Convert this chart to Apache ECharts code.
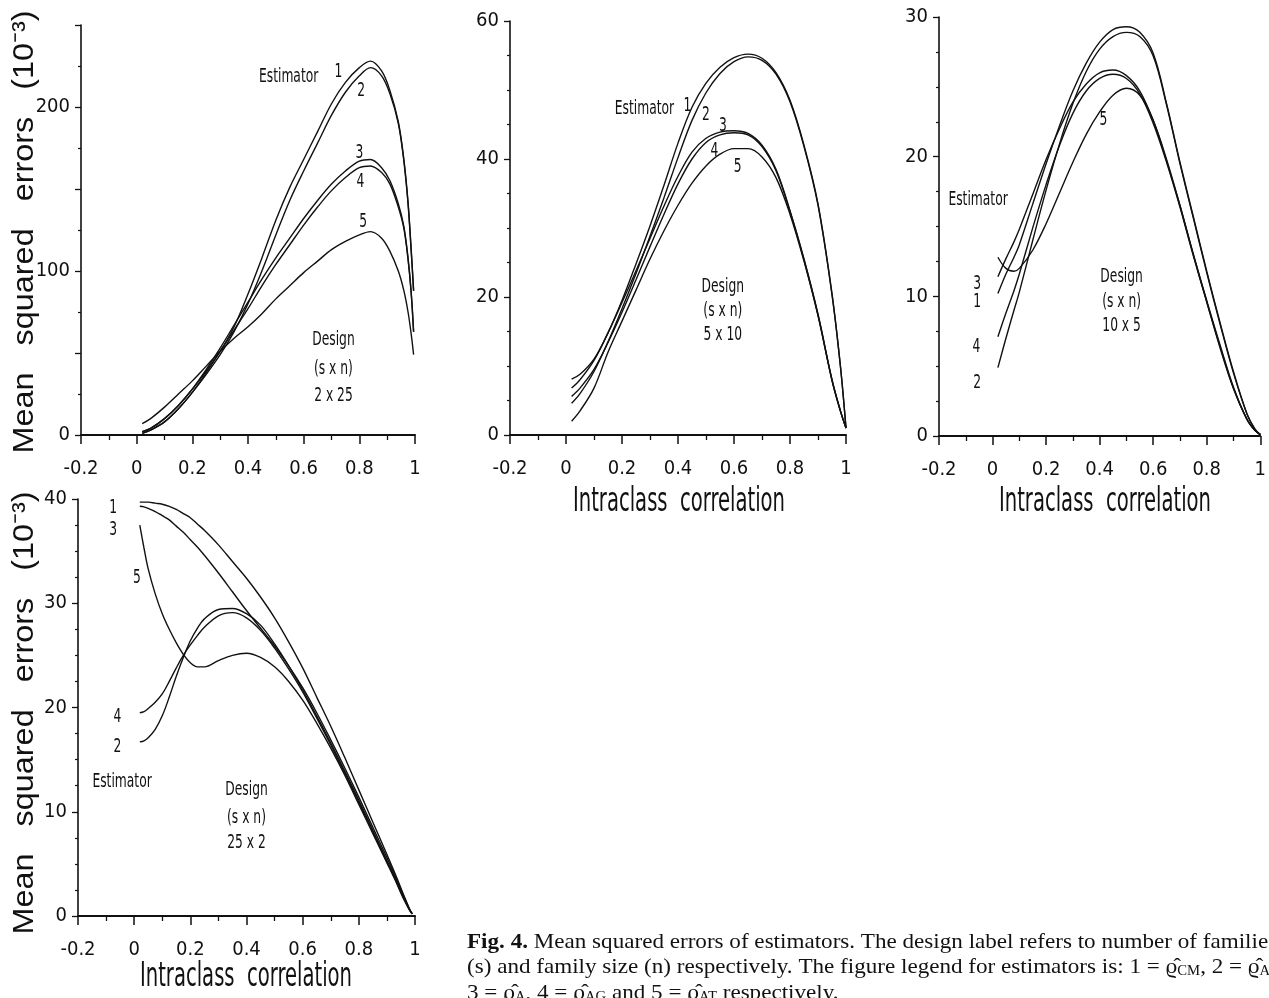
<!DOCTYPE html>
<html>
<head>
<meta charset="utf-8">
<script src="https://cdn.jsdelivr.net/npm/echarts@6/dist/echarts.min.js"></script>
<style>
  html, body { margin: 0; padding: 0; background: #fff; }
  #chart { width: 1269px; height: 998px; }
</style>
</head>
<body>
<div id="chart"></div>
<script>
// intraclass correlation values the curves were read at, one list per design
const rho2x25 = [0.02, 0.05, 0.1, 0.15, 0.2, 0.25, 0.3, 0.35, 0.4, 0.45, 0.5, 0.55, 0.6, 0.65, 0.7, 0.75, 0.8, 0.84, 0.88, 0.91, 0.94, 0.96, 0.975, 0.986, 0.995];
const mse2x25e1 = [2, 4, 10, 18, 28, 39, 51, 66, 86, 108, 131, 151, 168, 185, 202, 215, 224, 228, 222, 210, 191, 168, 142, 114, 88];
const mse2x25e2 = [1, 3, 8, 16, 26, 37, 49, 63, 80, 100, 122, 143, 161, 178, 195, 209, 219, 224, 219, 208, 190, 167, 141, 113, 88];
const mse2x25e3 = [2, 4, 10, 18, 28, 40, 53, 67, 81, 95, 108, 120, 132, 143, 153, 161, 167, 168, 163, 155, 141, 127, 108, 88, 63];
const mse2x25e4 = [1, 3, 8, 16, 26, 38, 51, 64, 77, 91, 104, 116, 128, 139, 149, 157, 163, 164, 160, 153, 139, 126, 107, 87, 63];
const mse2x25e5 = [7, 10, 17, 25, 33, 42, 51, 59, 66, 74, 83, 91, 99, 106, 113, 118, 122, 124, 120, 112, 100, 88, 75, 62, 49];

const rho5x10 = [0.02, 0.05, 0.1, 0.15, 0.2, 0.25, 0.3, 0.35, 0.4, 0.45, 0.5, 0.55, 0.6, 0.65, 0.7, 0.75, 0.8, 0.85, 0.9, 0.95, 0.98, 1.0];
const mse5x10e1 = [6.8, 8, 10.8, 14.8, 19.5, 24.8, 30.3, 36.2, 42.3, 47.5, 51, 53.3, 54.7, 55.2, 54.6, 52.5, 48.5, 42, 33.5, 20.5, 10, 1];
const mse5x10e2 = [4.6, 6, 9.2, 13.5, 18.3, 23.4, 28.8, 34.4, 40.2, 45.6, 49.6, 52.4, 54.1, 54.8, 54.3, 52.3, 48.3, 41.8, 33.3, 20.3, 10, 1];
const mse5x10e3 = [8.1, 8.8, 11, 14.8, 19.2, 23.8, 28.5, 33.2, 37.5, 41, 43, 43.9, 44.1, 43.7, 42, 38.5, 32.5, 25.5, 17.5, 8, 3.5, 1];
const mse5x10e4 = [5.6, 6.8, 9.5, 13.4, 17.8, 22.5, 27.3, 32, 36.4, 40, 42.4, 43.5, 43.8, 43.5, 41.8, 38.3, 32.4, 25.4, 17.4, 8, 3.5, 1];
const mse5x10e5 = [2, 3.5, 6.8, 12, 16.5, 21, 25.5, 29.6, 33.3, 36.5, 39, 40.7, 41.5, 41.5, 40.3, 37.3, 32, 25.2, 17.3, 7.9, 3.5, 1];

const rho10x5 = [0.02, 0.05, 0.08, 0.1, 0.15, 0.2, 0.25, 0.3, 0.35, 0.4, 0.45, 0.5, 0.55, 0.6, 0.65, 0.7, 0.75, 0.8, 0.85, 0.9, 0.95, 0.98, 1.0];
const mse10x5e1 = [10.2, 11.6, 12.8, 13.7, 16.6, 19.5, 22.2, 24.7, 26.7, 28.2, 29.1, 29.3, 28.9, 27.4, 23.8, 19.6, 15.7, 11.8, 8.1, 4.6, 1.6, 0.5, 0.1];
const mse10x5e2 = [4.9, 7, 9, 10.3, 14, 17.6, 20.9, 23.8, 26.1, 27.7, 28.6, 28.9, 28.6, 27.2, 23.7, 19.5, 15.6, 11.7, 8, 4.5, 1.6, 0.5, 0.1];
const mse10x5e3 = [11.4, 12.7, 13.9, 14.8, 17.3, 19.8, 22, 23.9, 25.2, 26, 26.2, 25.8, 24.7, 22.6, 19.7, 16.5, 13, 9.7, 6.5, 3.5, 1.2, 0.4, 0.1];
const mse10x5e4 = [7.1, 8.8, 10.4, 11.6, 14.9, 18, 20.8, 23.1, 24.7, 25.6, 25.9, 25.6, 24.5, 22.4, 19.6, 16.4, 12.9, 9.6, 6.4, 3.4, 1.2, 0.4, 0.1];
const mse10x5e5 = [12.8, 12, 11.8, 12, 13.3, 15.2, 17.4, 19.6, 21.6, 23.2, 24.4, 24.9, 24.4, 22.6, 19.8, 16.5, 13, 9.6, 6.3, 3.4, 1.2, 0.4, 0.1];

const rho25x2 = [0.02, 0.035, 0.05, 0.075, 0.1, 0.125, 0.15, 0.175, 0.2, 0.225, 0.25, 0.3, 0.35, 0.4, 0.45, 0.5, 0.55, 0.6, 0.65, 0.7, 0.75, 0.8, 0.85, 0.9, 0.93, 0.96, 0.98, 0.99];
const mse25x2e1 = [39.7, 39.7, 39.7, 39.6, 39.5, 39.3, 39, 38.6, 38.2, 37.6, 37, 35.6, 34, 32.4, 30.6, 28.6, 26.3, 23.8, 21, 18.2, 15.2, 12.1, 9, 5.9, 4, 2, 0.7, 0.2];
const mse25x2e2 = [16.7, 16.8, 17.1, 17.9, 19.2, 21, 23, 24.8, 26.4, 27.6, 28.5, 29.4, 29.5, 29, 27.9, 26.1, 24, 21.7, 19.2, 16.6, 13.9, 11.1, 8.2, 5.3, 3.6, 1.8, 0.6, 0.2];
const mse25x2e3 = [39.3, 39.25, 39.1, 38.8, 38.4, 38, 37.4, 36.8, 36.1, 35.4, 34.6, 32.9, 31.1, 29.3, 27.6, 25.9, 24, 21.9, 19.5, 16.9, 14.2, 11.4, 8.5, 5.6, 3.8, 1.9, 0.7, 0.2];
const mse25x2e4 = [19.5, 19.6, 19.9, 20.5, 21.3, 22.5, 23.8, 25, 26, 26.9, 27.7, 28.8, 29.1, 28.6, 27.4, 25.7, 23.7, 21.5, 19, 16.4, 13.7, 10.9, 8.1, 5.2, 3.5, 1.7, 0.6, 0.2];
const mse25x2e5 = [37.5, 35.3, 33.3, 30.9, 29, 27.5, 26.2, 25.1, 24.3, 23.9, 23.9, 24.5, 25, 25.2, 24.8, 23.9, 22.5, 20.7, 18.5, 16.1, 13.5, 10.7, 7.9, 5.1, 3.4, 1.6, 0.6, 0.2];

// in-plot labels: [rho, mse, text]
const notes2x25 = [[0.546, 218, 'Estimator'], [0.725, 221, '1'], [0.807, 210, '2'], [0.80, 172, '3'], [0.804, 154, '4'], [0.814, 130, '5'],
  [0.707, 58, 'Design'], [0.707, 40, '(s x n)'], [0.707, 24, '2 x 25']];
const notes5x10 = [[0.28, 47.3, 'Estimator'], [0.434, 47.6, '1'], [0.50, 46.3, '2'], [0.56, 44.8, '3'], [0.53, 41.2, '4'], [0.613, 38.9, '5'],
  [0.56, 21.5, 'Design'], [0.56, 17.9, '(s x n)'], [0.56, 14.5, '5 x 10']];
const notes10x5 = [[-0.054, 16.9, 'Estimator'], [-0.057, 10.9, '3'], [-0.057, 9.6, '1'], [-0.06, 6.4, '4'], [-0.057, 3.8, '2'], [0.414, 22.6, '5'],
  [0.482, 11.4, 'Design'], [0.482, 9.6, '(s x n)'], [0.482, 7.9, '10 x 5']];
const notes25x2 = [[-0.075, 39.1, '1'], [-0.075, 37, '3'], [0.01, 32.4, '5'], [-0.06, 19.1, '4'], [-0.06, 16.2, '2'], [-0.043, 12.8, 'Estimator'],
  [0.40, 12.1, 'Design'], [0.40, 9.4, '(s x n)'], [0.40, 7.0, '25 x 2']];

const yMax = [250, 60, 30, 40];
const yStep = [50, 20, 10, 10];

const narrow = '"Liberation Sans Narrow", "DejaVu Sans Condensed", "Arial Narrow", sans-serif';
const serif = '"Liberation Serif", "Times New Roman", serif';
const ink = '#111';

let myChart = echarts.init(document.getElementById('chart'), null, { renderer: 'canvas' });

function curves(rho, sets, idx) {
  return sets.map(function (vals) {
    return {
      type: 'line',
      xAxisIndex: idx,
      yAxisIndex: idx,
      data: rho.map(function (r, i) { return [r, vals[i]]; }),
      smooth: 0.35,
      showSymbol: false,
      silent: true,
      lineStyle: { color: ink, width: 1.4 }
    };
  });
}

function noteSeries(notes, idx) {
  return {
    type: 'custom',
    xAxisIndex: idx,
    yAxisIndex: idx,
    silent: true,
    data: notes.map(function (n) { return [n[0], n[1]]; }),
    renderItem: function (params, api) {
      let p = api.coord([api.value(0), api.value(1)]);
      return {
        type: 'text',
        x: p[0],
        y: p[1],
        scaleX: 0.72,
        style: {
          text: notes[params.dataIndex][2],
          fill: ink,
          fontSize: 19,
          fontFamily: narrow,
          align: 'center',
          verticalAlign: 'middle'
        }
      };
    }
  };
}

let grids = [
  { left: 81, top: 25, width: 334, height: 410 },
  { left: 510, top: 21, width: 336, height: 414 },
  { left: 939, top: 17, width: 334, height: 419 },
  { left: 78, top: 499, width: 337, height: 417 }
];

let xAxes = grids.map(function (g, i) {
  return {
    type: 'value',
    gridIndex: i,
    min: -0.2,
    max: 1,
    interval: 0.2,
    axisLine: { onZero: false, lineStyle: { color: ink, width: 2 } },
    axisTick: { length: 9, lineStyle: { color: ink, width: 1.5 } },
    minorTick: { show: true, splitNumber: 2, length: 5, lineStyle: { color: ink, width: 1.3 } },
    splitLine: { show: false },
    axisLabel: { color: ink, fontSize: 20, fontFamily: narrow, margin: 24 }
  };
});

let yAxes = grids.map(function (g, i) {
  return {
    type: 'value',
    gridIndex: i,
    min: 0,
    max: yMax[i],
    interval: yStep[i],
    axisLine: { onZero: false, lineStyle: { color: ink, width: 1.6 } },
    axisTick: { length: 6, lineStyle: { color: ink, width: 1.3 } },
    minorTick: { show: true, splitNumber: i === 0 ? 2 : 4, length: 3, lineStyle: { color: ink, width: 1.2 } },
    splitLine: { show: false },
    axisLabel: {
      color: ink, fontSize: 20, fontFamily: narrow, margin: 11,
      formatter: function (v) { return i === 0 && v % 100 !== 0 ? '' : String(v); }
    }
  };
});

let series = [].concat(
  curves(rho2x25, [mse2x25e1, mse2x25e2, mse2x25e3, mse2x25e4, mse2x25e5], 0),
  curves(rho5x10, [mse5x10e1, mse5x10e2, mse5x10e3, mse5x10e4, mse5x10e5], 1),
  curves(rho10x5, [mse10x5e1, mse10x5e2, mse10x5e3, mse10x5e4, mse10x5e5], 2),
  curves(rho25x2, [mse25x2e1, mse25x2e2, mse25x2e3, mse25x2e4, mse25x2e5], 3),
  [noteSeries(notes2x25, 0), noteSeries(notes5x10, 1), noteSeries(notes10x5, 2), noteSeries(notes25x2, 3)]
);

let yTitle = 'Mean   squared   errors   (10\u207B\u00B3)';
let xTitle = 'Intraclass  correlation';
let captionRich = {
  b: { fontWeight: 'bold', fontSize: 22, fontFamily: serif, fill: ink },
  s: { fontSize: 14, fontFamily: serif, fill: ink, verticalAlign: 'bottom', lineHeight: 23 }
};

function titleText(x, y, text, rotated) {
  return {
    type: 'text',
    x: x,
    y: y,
    rotation: rotated ? Math.PI / 2 : 0,
    scaleX: rotated ? 1.08 : 0.66,
    silent: true,
    style: {
      text: text,
      fill: ink,
      fontSize: rotated ? 30 : 33,
      fontFamily: rotated ? '"Liberation Sans", Arial, sans-serif' : narrow,
      align: 'center',
      verticalAlign: 'middle'
    }
  };
}

function captionLine(y, text) {
  return {
    type: 'text',
    x: 467,
    y: y,
    scaleX: 1.05,
    silent: true,
    style: {
      text: text,
      rich: captionRich,
      fill: ink,
      fontSize: 22,
      fontFamily: serif,
      align: 'left',
      verticalAlign: 'middle',
      lineHeight: 23
    }
  };
}

let option = {
  backgroundColor: '#fff',
  animation: false,
  grid: grids,
  xAxis: xAxes,
  yAxis: yAxes,
  series: series,
  graphic: [
    titleText(25, 232, yTitle, true),
    titleText(25, 713, yTitle, true),
    titleText(679, 502, xTitle, false),
    titleText(1105, 502, xTitle, false),
    titleText(246, 977, xTitle, false),
    captionLine(942, '{b|Fig. 4.} Mean squared errors of estimators. The design label refers to number of families'),
    captionLine(967, '(s) and family size (n) respectively. The figure legend for estimators is: 1 = \u03F1\u0302{s|CM}, 2 = \u03F1\u0302{s|AM},'),
    captionLine(993, '3 = \u03F1\u0302{s|A}, 4 = \u03F1\u0302{s|AG} and 5 = \u03F1\u0302{s|AT} respectively.')
  ]
};

myChart.setOption(option);
</script>
</body>
</html>
